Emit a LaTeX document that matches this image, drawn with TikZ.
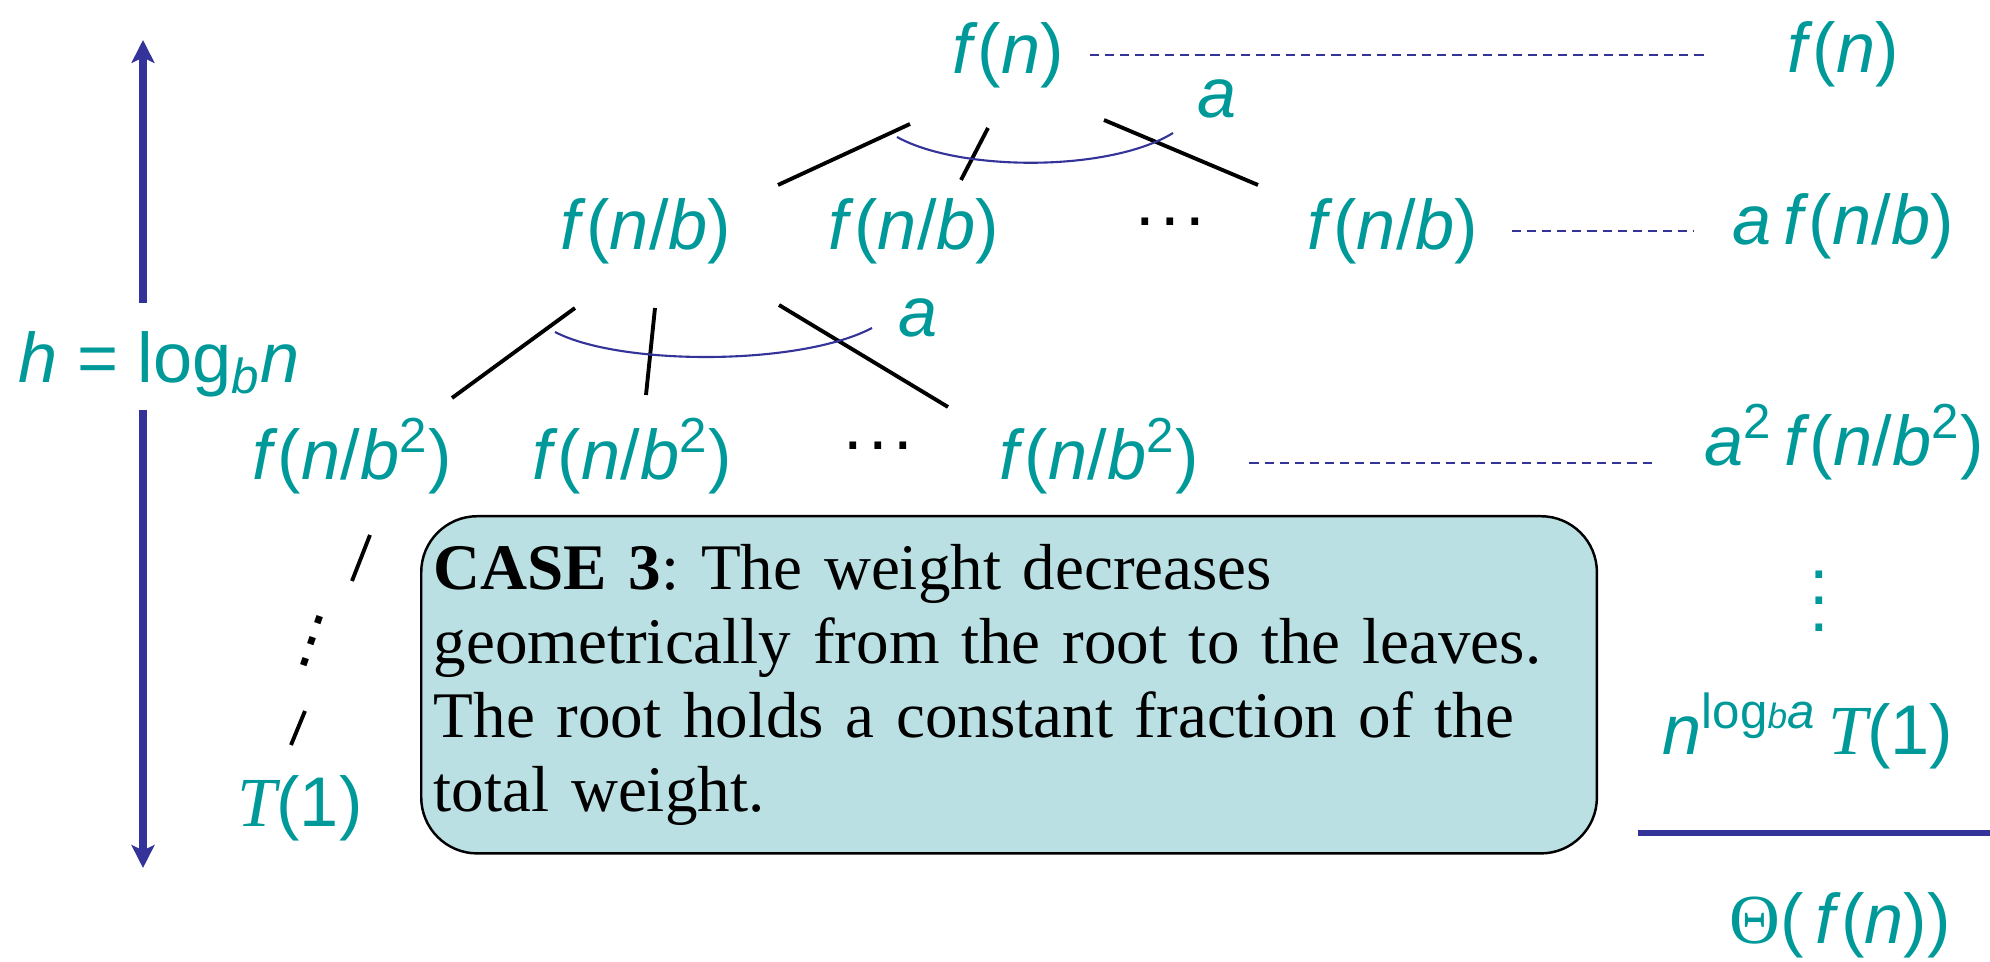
\documentclass[tikz,border=0pt]{standalone}
\usepackage{fontspec}
\setmainfont{Liberation Serif}
\newfontfamily\arialf{Liberation Sans}
\usetikzlibrary{arrows.meta,positioning,calc}
\definecolor{tealtx}{HTML}{009999}
\definecolor{navy}{HTML}{333399}
\definecolor{casebg}{HTML}{BBE0E3}
\newcommand\vi[1]{\textit{#1}}
\newcommand\sq{\textsuperscript{2}}

\begin{document}
\begin{tikzpicture}[x=0.01cm,y=-0.01cm,
  term/.style={text=tealtx,font=\arialf\fontsize{20}{24}\selectfont,inner sep=0pt},
  dotsx/.style={font=\arialf\fontsize{20}{24}\selectfont,inner sep=0pt},
  edge/.style={line width=1.1pt,black},
  fan/.style={line width=0.6pt,navy},
  lvl/.style={navy,line width=0.6pt,dash pattern=on 2.6pt off 1.7pt},
  harrow/.style={-{Stealth[length=6.5pt,width=6.5pt,inset=1.5pt]},line width=2pt,navy},
  casebox/.style={draw=black,line width=0.7pt,fill=casebg,rounded corners=0.56cm,
                  text width=11.5cm,inner xsep=0.125cm,inner ysep=0pt,minimum height=3.37cm,
                  align=left,font=\fontsize{18.5}{21}\selectfont\frenchspacing}
]
\useasboundingbox (0,0) rectangle (1990,962);

% recursion tree
\node[term] (root) at (1008,55) {\vi{f}(\vi{n})};
\node[term] (c1) at (646,231) {\vi{f}(\vi{n}/\vi{b})};
\node[term] (c2) at (914,231) {\vi{f}(\vi{n}/\vi{b})};
\node[dotsx] (cdots) at (1170,222) {.\kern1.5pt.\kern1.5pt.};
\node[term] (c3) at (1393,231) {\vi{f}(\vi{n}/\vi{b})};
\node[term] (g1) at (352,456) {\vi{f}(\vi{n}/\vi{b}\sq)};
\node[term] (g2) at (632,456) {\vi{f}(\vi{n}/\vi{b}\sq)};
\node[dotsx] (gdots) at (878,446) {.\kern1.5pt.\kern1.5pt.};
\node[term] (g3) at (1099,456) {\vi{f}(\vi{n}/\vi{b}\sq)};
\node[dotsx,align=center,rotate=-19,font=\arialf\fontsize{20}{6.4}\selectfont] (ldots) at (312,641) {.\\.\\.};
\node[term] (leaf) at (300,808) {{\rmfamily\itshape T}(1)};
\node[term] (a0) at (1217,99) {\vi{a}};
\node[term] (a1) at (918,318) {\vi{a}};

\draw[edge] ($(root)+(-98,69)$) -- ($(c1)+(132,-46)$);
\draw[edge] ($(root)+(-20,73)$) -- ($(c2)+(47,-51)$);
\draw[edge] ($(root)+(96,65)$) -- ($(c3)+(-135,-46)$);
\draw[fan] ($(root)+(-111,82)$) .. controls ($(root)+(-48,117)$) and ($(root)+(102,117)$) .. ($(root)+(165,78)$);
\draw[edge] ($(c1)+(-71,77)$) -- ($(g1)+(100,-58)$);
\draw[edge] ($(c1)+(9,77)$) -- ($(g2)+(14,-61)$);
\draw[edge] ($(c1)+(133,74)$) -- ($(g3)+(-151,-49)$);
\draw[fan] ($(c1)+(-91,101)$) .. controls ($(c1)+(-26,135)$) and ($(c1)+(154,135)$) .. ($(c1)+(226,97)$);
\draw[edge] ($(g1)+(18,79)$) -- ($(g1)+(0,125)$);
\draw[edge] ($(leaf)+(5,-97)$) -- ($(leaf)+(-9,-63)$);

% height of the tree
\node[term,anchor=base west] (hlab) at (18,383) {\vi{h} = log\textsubscript{\vi{b}}\vi{n}};
\coordinate (htop) at (143,40);
\coordinate (hup) at (143,303);
\coordinate (hdn) at (143,410);
\coordinate (hbot) at (143,868);
\draw[harrow] (hup) -- (htop);
\draw[harrow] (hdn) -- (hbot);

% level sums
\node[term] (s0) at (1843,54) {\vi{f}(\vi{n})};
\node[term] (s1) at (1843,226) {\vi{a}\,\vi{f}(\vi{n}/\vi{b})};
\node[term] (s2) at (1844,442) {\vi{a}\sq\,\vi{f}(\vi{n}/\vi{b}\sq)};
\node[term,align=center,font=\arialf\fontsize{20}{7.6}\selectfont] (svd) at (1819,601) {.\\.\\.};
\node[term] (s3) at (1808,731) {\vi{n}\textsuperscript{log{\fontsize{10}{10}\selectfont\vi{b}}\vi{a}}\,{\rmfamily\itshape T}(1)};
\node[term] (total) at (1840,925) {{\rmfamily Θ}(\,\vi{f}(\vi{n}))};

\draw[lvl,shorten <=0.25cm,shorten >=0.82cm] (root.east) -- (root.east -| s0.west);
\draw[lvl,shorten <=0.33cm,shorten >=0.38cm] (c3.east) -- (c3.east -| s1.west);
\draw[lvl,shorten <=0.5cm,shorten >=0.47cm] ([yshift=-0.07cm]g3.east) -- ([yshift=-0.07cm]g3.east -| s2.west);
\coordinate (sumL) at (1638,833);
\coordinate (sumR) at (1990,833);
\draw[navy,line width=1.7pt] (sumL) -- (sumR);

\node[casebox,anchor=north west] (case) at (420,515)
  {\textbf{CASE 3}: The weight decreases\\
   geometrically from the root to the leaves.\\
   The root holds a constant fraction of the\\
   total weight.};
\end{tikzpicture}
\end{document}
